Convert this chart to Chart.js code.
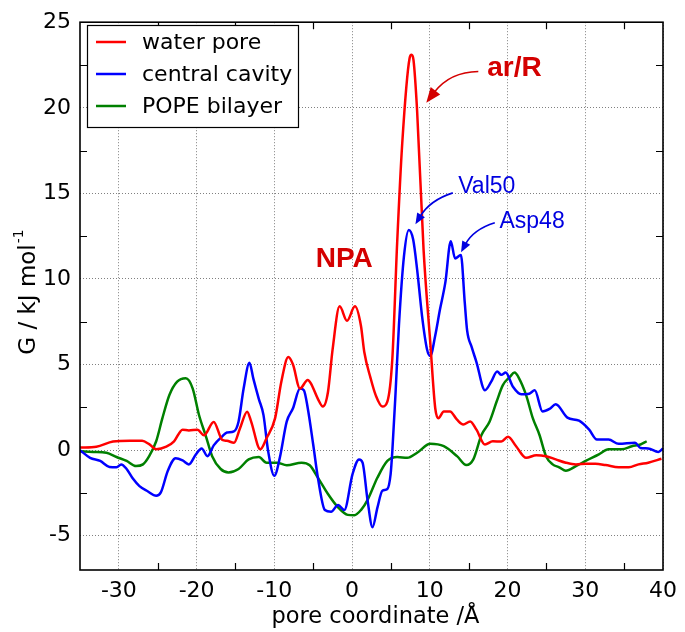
<!DOCTYPE html>
<html><head><meta charset="utf-8">
<script src="https://cdn.jsdelivr.net/npm/chart.js@4/dist/chart.umd.min.js"></script>
<style>html,body{margin:0;padding:0;background:#fff}canvas{display:block}</style>
</head><body>
<canvas id="c" width="685" height="632"></canvas>
<script>
// ---------- data ----------
const seriesNames = ['water pore', 'central cavity', 'POPE bilayer'];
const seriesColors = ['#ff0000', '#0000ff', '#008000'];

const waterX = [-35,-32.9,-30.75,-28.6,-27,-26.1,-25.2,-23.9,-22.9,-21.8,-21,-19.9,-19.05,-17.8,-16.7,-16.1,-15.2,-14.4,-13.5,-13.0,-11.8,-11.0,-9.9,-9.1,-8.2,-7.6,-6.7,-5.7,-5.3,-4.4,-3.75,-3.1,-2.5,-1.6,-0.65,0.37,1.14,1.57,2.4,3.05,3.9,4.54,5.18,5.8,6.45,7.4,7.65,7.9,8.37,9.2,10.06,10.7,11.1,11.8,12.6,13.5,14.3,15.2,16.0,17.1,18.1,19.2,20.06,21.1,22.4,23.7,24.95,26.2,27.5,28.8,30.1,31.3,32.6,34.3,35.6,36.85,38.1,39.8];
const waterY = [0.15,0.2,0.5,0.55,0.55,0.35,0.05,0.2,0.52,1.2,1.15,1.2,0.87,1.65,0.6,0.55,0.43,1.3,2.25,1.7,0.05,0.7,1.87,4.0,5.44,5.0,3.6,4.1,3.9,3.0,2.55,3.4,5.9,8.4,7.56,8.4,7.27,5.73,4.18,3.2,2.55,2.84,5.34,12.1,17.9,22.9,23.1,22.8,19.8,11.7,6.3,2.45,1.87,2.26,2.26,1.78,1.5,1.68,1.2,0.33,0.52,0.5,0.78,0.23,-0.45,-0.29,-0.35,-0.54,-0.73,-0.83,-0.8,-0.8,-0.87,-1.0,-1.0,-0.83,-0.73,-0.5];

const cavityX = [-35,-33.7,-32.4,-31.2,-30.3,-29.7,-29.0,-28.2,-27.35,-26.3,-25.2,-24.6,-23.7,-22.7,-21.8,-21.0,-20.1,-19.35,-18.6,-17.8,-16.7,-16.1,-15.2,-14.6,-13.95,-13.2,-12.7,-12.0,-11.4,-10.8,-10.0,-9.3,-8.4,-7.6,-6.7,-6.2,-5.7,-5.0,-4.4,-3.5,-2.7,-1.8,-1.0,0.06,0.9,1.35,2.0,2.63,3.27,3.9,4.54,4.96,5.18,5.6,6.03,6.67,7.3,7.86,8.37,9.0,9.64,10.06,10.7,11.3,12.0,12.7,13.25,14.0,14.5,14.8,15.4,16.0,17.1,17.9,18.66,19.2,19.76,20.7,21.76,22.8,23.5,24.5,25.4,26.2,27.7,29.2,30.5,31.5,33.0,34.3,36.4,37.1,38.1,39.4,40];
const cavityY = [0,-0.45,-0.63,-0.98,-1.0,-0.83,-1.1,-1.66,-2.1,-2.4,-2.66,-2.47,-1.2,-0.47,-0.6,-0.83,-0.25,0.1,-0.35,0.28,0.81,1.03,1.1,1.68,3.6,5.1,4.18,3.0,2.06,-0.05,-1.5,-0.45,1.68,2.45,3.6,3.5,2.45,0.33,-1.6,-3.5,-3.6,-3.2,-3.5,-1.4,-0.54,-0.73,-2.95,-4.5,-3.34,-2.37,-2.27,-1.4,-0.06,3.4,7.3,11.3,12.86,12.3,10.55,7.85,5.9,5.5,6.7,8.2,9.8,12.2,11.2,11.4,8.6,7.0,6.0,5.15,3.5,4.0,4.6,4.4,4.53,3.7,3.26,3.3,3.5,2.26,2.41,2.68,1.9,1.72,1.2,0.62,0.62,0.37,0.43,0.13,0.1,-0.1,0.1];

const bilayerX = [-35,-33.3,-31.6,-30.3,-29.0,-27.8,-26.9,-26.1,-25.2,-24.4,-23.5,-22.5,-21.4,-20.5,-19.7,-18.8,-18.0,-16.9,-15.9,-14.6,-13.3,-12.0,-11.0,-9.7,-8.4,-6.5,-5.45,-4.4,-3.1,-1.8,-0.56,0.3,1.14,2.0,3.27,4.54,5.8,7.1,8.37,10.06,11.8,13.5,14.7,15.6,16.66,17.7,18.6,19.4,20.3,20.9,21.5,22.4,23.25,24.1,24.95,25.8,26.65,27.5,28.8,30.05,31.75,33.0,34.7,36.0,37.1,37.9];
const bilayerY = [-0.06,-0.1,-0.15,-0.4,-0.63,-0.93,-0.83,-0.35,0.52,1.87,3.22,4.0,4.2,3.6,2.07,0.81,-0.35,-1.1,-1.3,-1.1,-0.54,-0.4,-0.73,-0.73,-0.88,-0.73,-0.88,-1.6,-2.56,-3.34,-3.78,-3.8,-3.5,-2.9,-1.6,-0.63,-0.4,-0.45,-0.15,0.37,0.23,-0.35,-0.87,-0.54,0.9,1.68,2.84,3.8,4.28,4.53,4.18,3.2,1.87,0.9,-0.35,-0.83,-1.0,-1.2,-0.93,-0.63,-0.25,0.05,0.05,0.23,0.33,0.52];

const xTicks = [-30,-20,-10,0,10,20,30,40];
const yTicks = [-5,0,5,10,15,20,25];
const xMinorTicks = [-25,-15,-5,5,15,25,35];
const yMinorTicks = [-2.5,2.5,7.5,12.5,17.5,22.5];

const xTitle = 'pore coordinate /Å';
const yTitleMain = 'G / kJ mol';
const yTitleSup = '-1';

// annotation texts (positions in data units)
const annotations = [
  {text:'ar/R', x:20.9, y:22.3, font:'bold 28px "Liberation Sans", Arial, sans-serif', color:'#d40000',
   arrow:{from:[16.24,22.12], ctrl:[12.6,22.1], to:[9.55,20.3], head:15, half:6}},
  {text:'NPA', x:-1.0, y:11.14, font:'bold 28px "Liberation Sans", Arial, sans-serif', color:'#d40000'},
  {text:'Val50', x:17.33, y:15.42, font:'23px "Liberation Sans", Arial, sans-serif', color:'#0000e0',
   arrow:{from:[12.96,15.03], ctrl:[10.0,14.6], to:[8.15,13.19], head:11, half:4.5}},
  {text:'Asp48', x:23.16, y:13.37, font:'23px "Liberation Sans", Arial, sans-serif', color:'#0000e0',
   arrow:{from:[18.36,13.29], ctrl:[15.6,12.9], to:[14.02,11.56], head:11, half:4.5}}
];

const FONT = '"DejaVu Sans", sans-serif';

function pts(xs, ys){ return xs.map((x,i)=>({x:x, y:ys[i]})); }

const decor = {
  id:'decor',
  afterDraw(chart){
    const ctx = chart.ctx, a = chart.chartArea;
    const xs = chart.scales.x, ys = chart.scales.y;
    ctx.save();
    // minor ticks
    ctx.strokeStyle = '#000'; ctx.lineWidth = 1.2;
    const tl = 7;
    ctx.beginPath();
    xMinorTicks.forEach(v=>{
      const px = Math.round(xs.getPixelForValue(v))+0.5;
      ctx.moveTo(px, a.bottom); ctx.lineTo(px, a.bottom - tl);
      ctx.moveTo(px, a.top); ctx.lineTo(px, a.top + tl);
    });
    yMinorTicks.forEach(v=>{
      const py = Math.round(ys.getPixelForValue(v))+0.5;
      ctx.moveTo(a.left, py); ctx.lineTo(a.left + tl, py);
      ctx.moveTo(a.right, py); ctx.lineTo(a.right - tl, py);
    });
    ctx.stroke();
    // frame
    ctx.lineWidth = 1.6;
    ctx.strokeRect(a.left, a.top, a.right - a.left, a.bottom - a.top);

    // legend
    const lx = 87.5, ly = 25.5, lw = 211, lh = 102;
    ctx.fillStyle = '#fff';
    ctx.fillRect(lx, ly, lw, lh);
    ctx.lineWidth = 1.2; ctx.strokeStyle = '#000';
    ctx.strokeRect(lx, ly, lw, lh);
    ctx.font = '22px ' + FONT;
    ctx.textBaseline = 'middle'; ctx.textAlign = 'left';
    chart.data.datasets.forEach((d,i)=>{
      const yy = 42 + i*32;
      ctx.strokeStyle = d.borderColor; ctx.lineWidth = 2.5;
      ctx.beginPath(); ctx.moveTo(96, yy); ctx.lineTo(126, yy); ctx.stroke();
      ctx.fillStyle = '#000';
      ctx.fillText(d.label, 142, yy + 1);
    });

    // annotations
    annotations.forEach(an=>{
      ctx.font = an.font; ctx.fillStyle = an.color;
      ctx.textAlign = 'center'; ctx.textBaseline = 'middle';
      ctx.fillText(an.text, xs.getPixelForValue(an.x), ys.getPixelForValue(an.y));
      if (an.arrow){
        const P = p => [xs.getPixelForValue(p[0]), ys.getPixelForValue(p[1])];
        const p0 = P(an.arrow.from), pc = P(an.arrow.ctrl), p1 = P(an.arrow.to);
        let dx = p1[0]-pc[0], dy = p1[1]-pc[1];
        const L = Math.hypot(dx,dy); dx/=L; dy/=L;
        const bx = p1[0]-dx*an.arrow.head, by = p1[1]-dy*an.arrow.head;
        ctx.strokeStyle = an.color; ctx.lineWidth = 1.6;
        ctx.beginPath(); ctx.moveTo(p0[0],p0[1]);
        ctx.quadraticCurveTo(pc[0],pc[1], bx+dx*2, by+dy*2); ctx.stroke();
        ctx.beginPath();
        ctx.moveTo(p1[0],p1[1]);
        ctx.lineTo(bx - dy*an.arrow.half, by + dx*an.arrow.half);
        ctx.lineTo(bx + dy*an.arrow.half, by - dx*an.arrow.half);
        ctx.closePath(); ctx.fill();
      }
    });

    // axis titles
    ctx.fillStyle = '#000';
    ctx.font = '22.5px ' + FONT;
    ctx.textAlign = 'center'; ctx.textBaseline = 'alphabetic';
    ctx.fillText(xTitle, (a.left + a.right)/2 + 4, 623);

    ctx.save();
    ctx.translate(35, 0);
    ctx.rotate(-Math.PI/2);
    ctx.font = '23px ' + FONT;
    const mainW = ctx.measureText(yTitleMain).width;
    ctx.font = '14px ' + FONT;
    const supW = ctx.measureText(yTitleSup).width;
    const total = mainW + supW + 1;
    const cy = 292;
    const start = -(cy + total/2);
    ctx.textAlign = 'left';
    ctx.font = '23px ' + FONT;
    ctx.fillText(yTitleMain, start, 0);
    ctx.font = '14px ' + FONT;
    ctx.fillText(yTitleSup, start + mainW + 1, -12);
    ctx.restore();

    ctx.restore();
  }
};

const datasets = [
  {label:seriesNames[0], data:pts(waterX, waterY), borderColor:seriesColors[0]},
  {label:seriesNames[1], data:pts(cavityX, cavityY), borderColor:seriesColors[1]},
  {label:seriesNames[2], data:pts(bilayerX, bilayerY), borderColor:seriesColors[2]}
].map(d=>Object.assign(d, {borderWidth:2.5, pointRadius:0, fill:false, cubicInterpolationMode:'monotone'}));

new Chart(document.getElementById('c'), {
  type:'line',
  data:{datasets:datasets},
  options:{
    responsive:false, animation:false, parsing:true,
    layout:{padding:{top:17, right:17, left:0, bottom:0}},
    plugins:{legend:{display:false}, tooltip:{enabled:false}},
    scales:{
      x:{type:'linear', min:-35, max:40,
         afterBuildTicks:s=>{ s.ticks = xTicks.map(v=>({value:v})); },
         afterFit:s=>{ s.height = 62; },
         grid:{color:'#808080', lineWidth:1, drawTicks:false},
         border:{display:false, dash:[1,2]},
         ticks:{color:'#000', font:{family:'DejaVu Sans', size:22}, padding:8, maxRotation:0, autoSkip:false}},
      y:{type:'linear', min:-7, max:25,
         afterBuildTicks:s=>{ s.ticks = yTicks.map(v=>({value:v})); },
         afterFit:s=>{ s.width = 80; },
         grid:{color:'#808080', lineWidth:1, drawTicks:false},
         border:{display:false, dash:[1,2]},
         ticks:{color:'#000', font:{family:'DejaVu Sans', size:22}, padding:9, autoSkip:false}}
    }
  },
  plugins:[decor]
});
</script>
</body></html>
